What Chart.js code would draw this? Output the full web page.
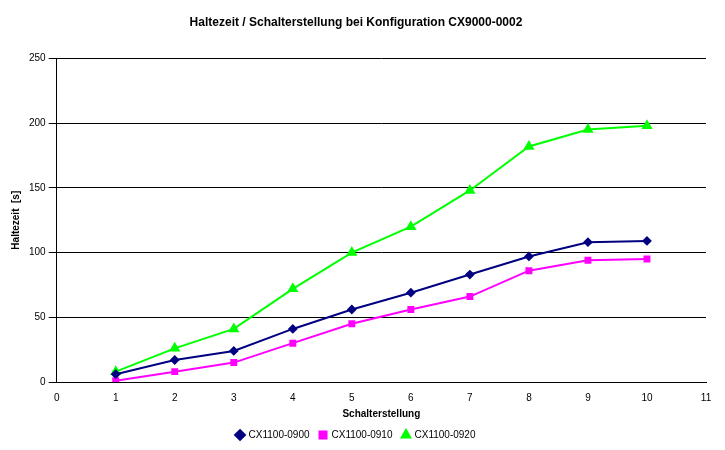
<!DOCTYPE html>
<html><head><script src="https://cdn.jsdelivr.net/npm/chart.js"></script>
<style>body{margin:0;background:#fff}#w{width:725px;height:450px}</style></head>
<body><div id="w"><canvas id="c"></canvas></div>
<script>
const categories=[1,2,3,4,5,6,7,8,9,10];
const s0900=[6,17,24,41,56,69,83,97,108,109];
const s0910=[1,8,15,30,45,56,66,86,94,95];
const s0920=[8,26,41,72,100,120,148,182,195,198];
const mk=(d)=>categories.map((x,i)=>({x,y:d[i]}));
Chart.defaults.font.family="'Liberation Sans', Arial, sans-serif";
Chart.defaults.color="#000";
new Chart(document.getElementById('c'),{type:'line',data:{datasets:[
{label:'CX1100-0900',data:mk(s0900),borderColor:'#000080',backgroundColor:'#000080',pointStyle:'rectRot',pointRadius:3.5,borderWidth:2},
{label:'CX1100-0910',data:mk(s0910),borderColor:'#ff00ff',backgroundColor:'#ff00ff',pointStyle:'rect',pointRadius:3.5,borderWidth:2},
{label:'CX1100-0920',data:mk(s0920),borderColor:'#00ff00',backgroundColor:'#00ff00',pointStyle:'triangle',pointRadius:4.5,borderWidth:2}
]},options:{responsive:true,maintainAspectRatio:false,animation:false,
layout:{padding:{left:6,right:19,top:5,bottom:0}},
plugins:{title:{display:true,text:'Haltezeit / Schalterstellung bei Konfiguration CX9000-0002',font:{size:12,weight:'bold'},padding:{top:10,bottom:29}},
legend:{position:'bottom',labels:{usePointStyle:true,boxWidth:7,boxHeight:7,font:{size:10},padding:10}}},
scales:{x:{type:'linear',min:0,max:11,ticks:{stepSize:1,font:{size:10},padding:2},grid:{display:false},border:{color:'#000'},
title:{display:true,text:'Schalterstellung',font:{size:10,weight:'bold'},padding:{top:2,bottom:0}}},
y:{min:0,max:250,ticks:{stepSize:50,font:{size:10}},grid:{color:'#000'},border:{color:'#000'},
title:{display:true,text:'Haltezeit  [s]',font:{size:10,weight:'bold'}}}}}});
</script></body></html>
